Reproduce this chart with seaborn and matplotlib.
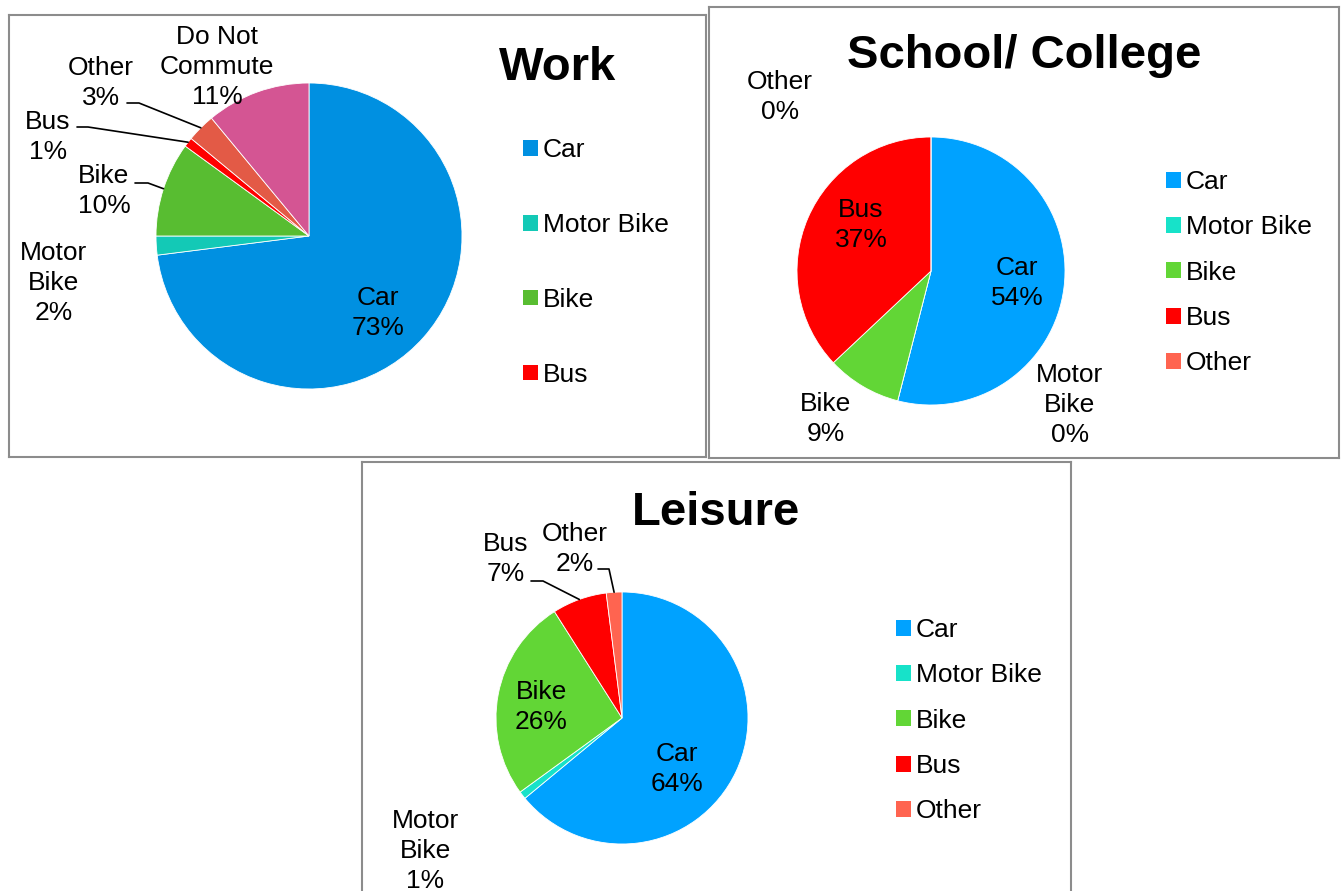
import numpy as np
import seaborn as sns
import matplotlib.pyplot as plt
from matplotlib.patches import Patch

sns.set_theme(style="white")
plt.rcParams['font.family'] = ['Liberation Sans', 'DejaVu Sans']

W, H = 1341, 891

# data
work_modes = ["Car", "Motor Bike", "Bike", "Bus", "Other", "Do Not Commute"]
work_share = [73, 2, 10, 1, 3, 11]
work_colors = ["#0090e1", "#13c9b6", "#58bd31", "#ff0000", "#e35a46", "#d45593"]

modes = ["Car", "Motor Bike", "Bike", "Bus", "Other"]
school_share = [54, 0, 9, 37, 0]
leisure_share = [64, 1, 26, 7, 2]
mode_colors = ["#00a2ff", "#17e2c9", "#62d636", "#ff0000", "#ff6450"]

wrapped = {"Motor Bike": "Motor\nBike", "Do Not Commute": "Do Not\nCommute"}

fig = plt.figure(figsize=(W / 100, H / 100), dpi=100)


def draw_panel(rect, title, title_xy, names, shares, colors, center, radius,
               label_xy, leaders, n_legend, legend_xy, spacing):
    x0, y0, x1, y1 = rect
    ax = fig.add_axes([x0 / W, (H - y1) / H, (x1 - x0) / W, (y1 - y0) / H])
    cx, cy = center
    wedges, _ = ax.pie(shares, colors=colors, startangle=90, counterclock=False,
                       center=(cx, H - cy), radius=radius,
                       wedgeprops=dict(edgecolor="white", linewidth=0.6))
    ax.set_xlim(x0, x1)
    ax.set_ylim(H - y1, H - y0)
    ax.set_aspect("auto")
    ax.set_frame_on(True)
    ax.set_xticks([])
    ax.set_yticks([])
    for s in ax.spines.values():
        s.set_visible(True)
        s.set_color("#8c8c8c")
        s.set_linewidth(1.5)

    ax.text(title_xy[0], H - title_xy[1], title, ha="center", va="center",
            fontsize=34, fontweight="bold", color="black")

    # data labels
    cum = np.cumsum([0] + list(shares))
    for i, name in enumerate(names):
        lx, ly = label_xy[name]
        txt = wrapped.get(name, name) + "\n" + f"{shares[i]}%"
        ax.text(lx, H - ly, txt, ha="center", va="center", fontsize=19,
                linespacing=1.34, color="black")
        if name in leaders:
            sx, sy, ex = leaders[name]
            mid = np.deg2rad(90 - 360 * (cum[i] + shares[i] / 2) / 100)
            px = cx + radius * np.cos(mid)
            py = H - cy + radius * np.sin(mid)
            ax.plot([sx, ex, px], [H - sy, H - sy, py], color="black", lw=1.2)

    handles = [Patch(facecolor=c, edgecolor="none") for c in colors[:n_legend]]
    ax.legend(handles, names[:n_legend], loc="upper left",
              bbox_to_anchor=(legend_xy[0], H - legend_xy[1]),
              bbox_transform=ax.transData, frameon=False, fontsize=19,
              labelcolor="black", handlelength=0.55, handleheight=0.55,
              handletextpad=0.2, labelspacing=spacing, borderpad=0,
              borderaxespad=0)
    return ax


draw_panel((9, 15, 706, 457), "Work", (558, 68), work_modes, work_share,
           work_colors, (309, 236), 153,
           {"Car": (378, 313), "Motor Bike": (54, 283), "Bike": (104, 191),
            "Bus": (48, 137), "Other": (101, 83), "Do Not Commute": (217, 67)},
           {"Bike": (135, 183, 148), "Bus": (77, 127, 88), "Other": (127, 103, 139)},
           4, (523, 138), 1.93)

draw_panel((709, 7, 1339, 458), "School/ College", (1024, 56), modes,
           school_share, mode_colors, (931, 271), 134,
           {"Car": (1017, 283), "Motor Bike": (1070, 405), "Bike": (826, 419),
            "Bus": (861, 225), "Other": (780, 97)},
           {}, 5, (1166, 170), 0.81)

draw_panel((362, 462, 1071, 910), "Leisure", (716, 513), modes,
           leisure_share, mode_colors, (622, 718), 126,
           {"Car": (677, 769), "Motor Bike": (425, 851), "Bike": (541, 707),
            "Bus": (506, 559), "Other": (575, 549)},
           {"Bus": (531, 581, 543), "Other": (598, 569, 609)},
           5, (896, 618), 0.81)

fig.savefig("out.png", dpi=100)
